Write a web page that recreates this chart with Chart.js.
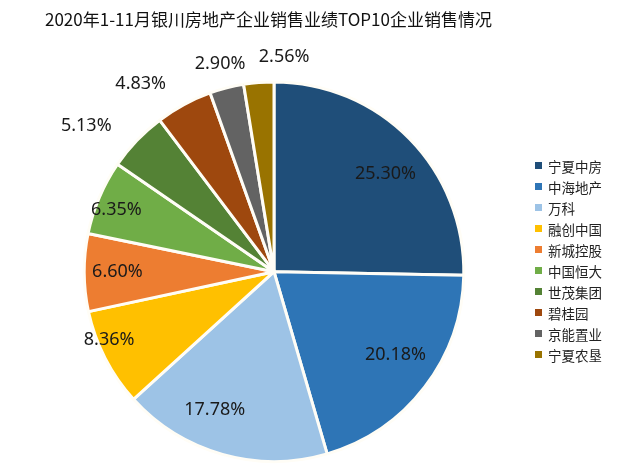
<!DOCTYPE html>
<html lang="zh">
<head>
    <meta charset="UTF-8">
    <title>银川房地产企业销售业绩</title>
    <script src="https://cdn.jsdelivr.net/npm/chart.js"></script>
    <style>
        body {
            margin: 0;
            background: #fff;
            font-family: 'Noto Sans CJK SC', 'Noto Sans', sans-serif;
        }

        .wrap {
            position: relative;
            width: 626px;
            height: 468px;
        }

        .legend {
            position: absolute;
            left: 535px;
            top: 155px;
            margin: 0;
            padding: 0;
            list-style: none;
        }

        .legend li {
            height: 21px;
            display: flex;
            align-items: center;
            font-size: 13.5px;
            color: #222;
        }

        .legend span {
            display: inline-block;
            width: 7px;
            height: 7px;
            margin-right: 6px;
        }
    </style>
</head>
<body>

<div class="wrap">
    <canvas id="pieChart"></canvas>
    <ul class="legend" id="legend"></ul>
</div>

<script>
    // data
    const companies = ['宁夏中房', '中海地产', '万科', '融创中国', '新城控股', '中国恒大', '世茂集团', '碧桂园', '京能置业', '宁夏农垦'];
    const shares = [25.30, 20.18, 17.78, 8.36, 6.60, 6.35, 5.13, 4.83, 2.90, 2.56];

    const colors = ['#1f4e79', '#2e75b6', '#9dc3e6', '#ffc000', '#ed7d31', '#70ad47', '#548235', '#9e480e', '#636363', '#997300'];
    // label placement: distance as a fraction of the radius, and a small turn (degrees) off the slice middle
    const labelDist = [0.78, 0.776, 0.794, 0.94, 0.825, 0.893, 1.252, 1.214, 1.132, 1.133];
    const labelTurn = [3.3, -3.0, 7.4, 4.7, 0.3, -1.5, -5.9, -7.0, -0.1, 7.3];

    // legend
    const legend = document.getElementById('legend');
    companies.forEach((name, i) => {
        const li = document.createElement('li');
        li.innerHTML = `<span style="background:${colors[i]}"></span>${name}`;
        legend.appendChild(li);
    });

    // percent labels on / next to each slice
    const sliceLabels = {
        id: 'sliceLabels',
        afterDatasetsDraw(chart) {
            const ctx = chart.ctx;
            const arcs = chart.getDatasetMeta(0).data;
            ctx.save();
            ctx.font = '18px "Noto Sans", sans-serif';
            ctx.fillStyle = '#1a1a1a';
            ctx.textAlign = 'center';
            ctx.textBaseline = 'middle';
            arcs.forEach((arc, i) => {
                const mid = (arc.startAngle + arc.endAngle) / 2 + labelTurn[i] * Math.PI / 180;
                const r = arc.outerRadius * labelDist[i];
                ctx.fillText(shares[i].toFixed(2) + '%', arc.x + Math.cos(mid) * r, arc.y + Math.sin(mid) * r);
            });
            ctx.restore();
        }
    };

    new Chart(document.getElementById('pieChart'), {
        type: 'pie',
        data: {
            labels: companies,
            datasets: [{
                data: shares,
                backgroundColor: colors,
                borderColor: '#fffdf6',
                borderWidth: 3
            }]
        },
        options: {
            responsive: true,
            maintainAspectRatio: false,
            animation: false,
            layout: {
                padding: { left: 45, right: 123, top: 0, bottom: 5 }
            },
            plugins: {
                legend: { display: false },
                tooltip: { enabled: false },
                title: {
                    display: true,
                    text: '2020年1-11月银川房地产企业销售业绩TOP10企业销售情况',
                    align: 'start',
                    color: '#111',
                    font: { size: 17, weight: 'normal', family: '"Noto Sans CJK SC", sans-serif' },
                    padding: { top: 9, bottom: 51 }
                }
            }
        },
        plugins: [sliceLabels]
    });
</script>

</body>
</html>
